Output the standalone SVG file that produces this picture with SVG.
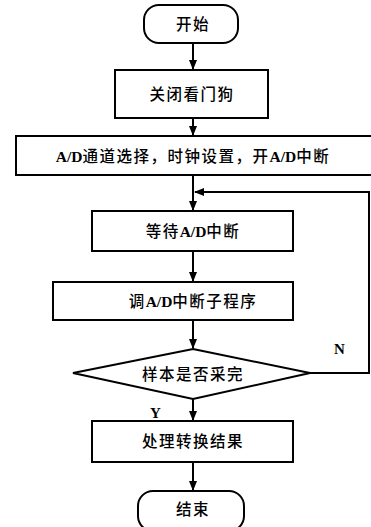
<svg xmlns="http://www.w3.org/2000/svg" width="371" height="527" viewBox="0 0 371 527">
<style>
.s{fill:#fff;stroke:#000;stroke-width:2}
.t{font-family:"Liberation Serif","Noto Sans CJK SC",serif;font-size:15.5px;font-weight:500;letter-spacing:1.5px;text-anchor:middle;dominant-baseline:central;fill:#000}
.b{font-weight:bold;letter-spacing:0}
.c{fill:none;stroke:#000;stroke-width:2}
.l{font-family:"Liberation Serif",serif;font-size:15px;font-weight:bold;fill:#000}
</style>
<defs>
<marker id="a" markerWidth="10" markerHeight="10" refX="9" refY="5" orient="auto" markerUnits="userSpaceOnUse">
<path d="M0,1 L10,5 L0,9 Z" fill="#000"/>
</marker>
</defs>
<g id="connectors">
<line class="c" x1="193" y1="43" x2="193" y2="69" marker-end="url(#a)"/>
<line class="c" x1="193" y1="118" x2="193" y2="135" marker-end="url(#a)"/>
<line class="c" x1="193" y1="175" x2="193" y2="210" marker-end="url(#a)"/>
<line class="c" x1="193" y1="251" x2="193" y2="281" marker-end="url(#a)"/>
<line class="c" x1="193" y1="320" x2="193" y2="348" marker-end="url(#a)"/>
<line class="c" x1="193" y1="399" x2="193" y2="420" marker-end="url(#a)"/>
<line class="c" x1="193" y1="462" x2="193" y2="490" marker-end="url(#a)"/>
<polyline class="c" points="310,373 369,373 369,192 195,192" marker-end="url(#a)"/>
<text class="l" x="334" y="354">N</text>
<text class="l" x="150" y="418">Y</text>
</g>
<g id="start">
<rect class="s" x="144" y="5" width="94" height="38" rx="15"/>
<text class="t" x="193" y="24">开始</text>
</g>
<g id="wdt">
<rect class="s" x="115" y="70" width="153" height="48"/>
<text class="t" x="192" y="94">关闭看门狗</text>
</g>
<g id="init">
<rect class="s" x="16" y="136" width="362" height="39"/>
<text class="t" x="193" y="156"><tspan class="b">A/D</tspan>通道选择，时钟设置，开<tspan class="b">A/D</tspan>中断</text>
</g>
<g id="wait">
<rect class="s" x="92" y="211" width="201" height="40"/>
<text class="t" x="193" y="231">等待<tspan class="b">A/D</tspan>中断</text>
</g>
<g id="call">
<rect class="s" x="53" y="282" width="240" height="38"/>
<text class="t" x="193" y="301">调<tspan class="b">A/D</tspan>中断子程序</text>
</g>
<g id="decide">
<polygon class="s" points="193,349 310,373 193,399 73,373"/>
<text class="t" x="193" y="374">样本是否采完</text>
</g>
<g id="process">
<rect class="s" x="92" y="421" width="201" height="41"/>
<text class="t" x="193" y="441">处理转换结果</text>
</g>
<g id="end">
<rect class="s" x="138" y="491" width="106" height="40" rx="15"/>
<text class="t" x="193" y="509">结束</text>
</g>
</svg>
